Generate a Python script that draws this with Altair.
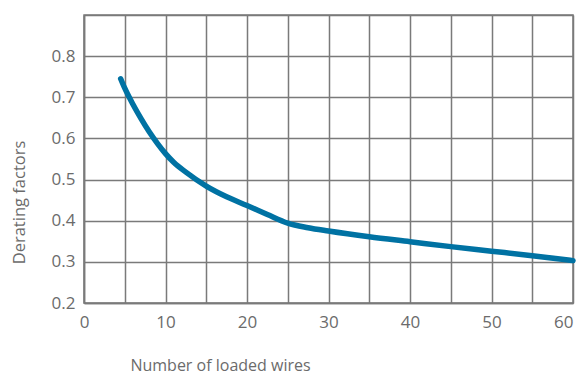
import altair as alt
import pandas as pd

wires = [4.5, 5, 6, 7, 8, 9, 10, 11, 12.5, 15, 17.5, 20, 22.5, 25, 27.5, 30, 35, 40, 45, 50, 55, 60]
factors = [0.745, 0.722, 0.683, 0.648, 0.616, 0.588, 0.563, 0.542, 0.518, 0.484, 0.458, 0.437, 0.415,
           0.394, 0.383, 0.375, 0.361, 0.349, 0.337, 0.326, 0.315, 0.303]

x_ticks = [0, 5, 10, 15, 20, 25, 30, 35, 40, 45, 50, 55, 60]
y_ticks = [0.2, 0.3, 0.4, 0.5, 0.6, 0.7, 0.8, 0.9]

df = pd.DataFrame({"wires": wires, "factor": factors})

grid_color = "#7a7a7a"
text_color = "#6b6b6b"
font = "Open Sans"

chart = alt.Chart(df).mark_line(
    color="#0072a3", strokeWidth=5.5, strokeCap="round", strokeJoin="round", interpolate="monotone"
).encode(
    x=alt.X("wires:Q", scale=alt.Scale(domain=[0, 60], nice=False, zero=False),
            axis=alt.Axis(values=x_ticks, title="Number of loaded wires",
                          labelExpr="datum.value % 10 == 0 ? datum.label : ''",
                          labelFlush=False,
                          labelAlign={"condition": {"test": "datum.value == 60", "value": "right"},
                                      "value": "center"},
                          grid=True, gridColor=grid_color, gridWidth=1.5, gridOpacity=1,
                          domainColor=grid_color, domainWidth=1.5, ticks=False,
                          labelPadding=11, labelFont=font, labelFontSize=17, labelColor=text_color,
                          titleFont=font, titleFontSize=16, titleFontWeight="normal", titleColor=text_color,
                          titleX=136, titleY=62, titleAlign="center", titleBaseline="middle")),
    y=alt.Y("factor:Q", scale=alt.Scale(domain=[0.2, 0.9], nice=False, zero=False),
            axis=alt.Axis(values=y_ticks, title="Derating factors", format=".1f",
                          labelExpr="datum.value > 0.85 ? '' : datum.label",
                          labelFlush=False,
                          grid=True, gridColor=grid_color, gridWidth=1.5, gridOpacity=1,
                          domainColor=grid_color, domainWidth=1.5, ticks=False,
                          labelPadding=9, labelFont=font, labelFontSize=17, labelColor=text_color,
                          titleFont=font, titleFontSize=16.5, titleFontWeight="normal", titleColor=text_color,
                          titleX=-65, titleY=187, titleAlign="center", titleBaseline="middle", titleAngle=270)),
).properties(
    width=489, height=288,
    autosize=alt.AutoSizeParams(type="none"),
    padding={"left": 76, "top": 7, "right": 5, "bottom": 70},
).configure_view(stroke=grid_color, strokeWidth=1.5)

chart.save("out.html", embed_options={"renderer": "svg", "actions": False})
